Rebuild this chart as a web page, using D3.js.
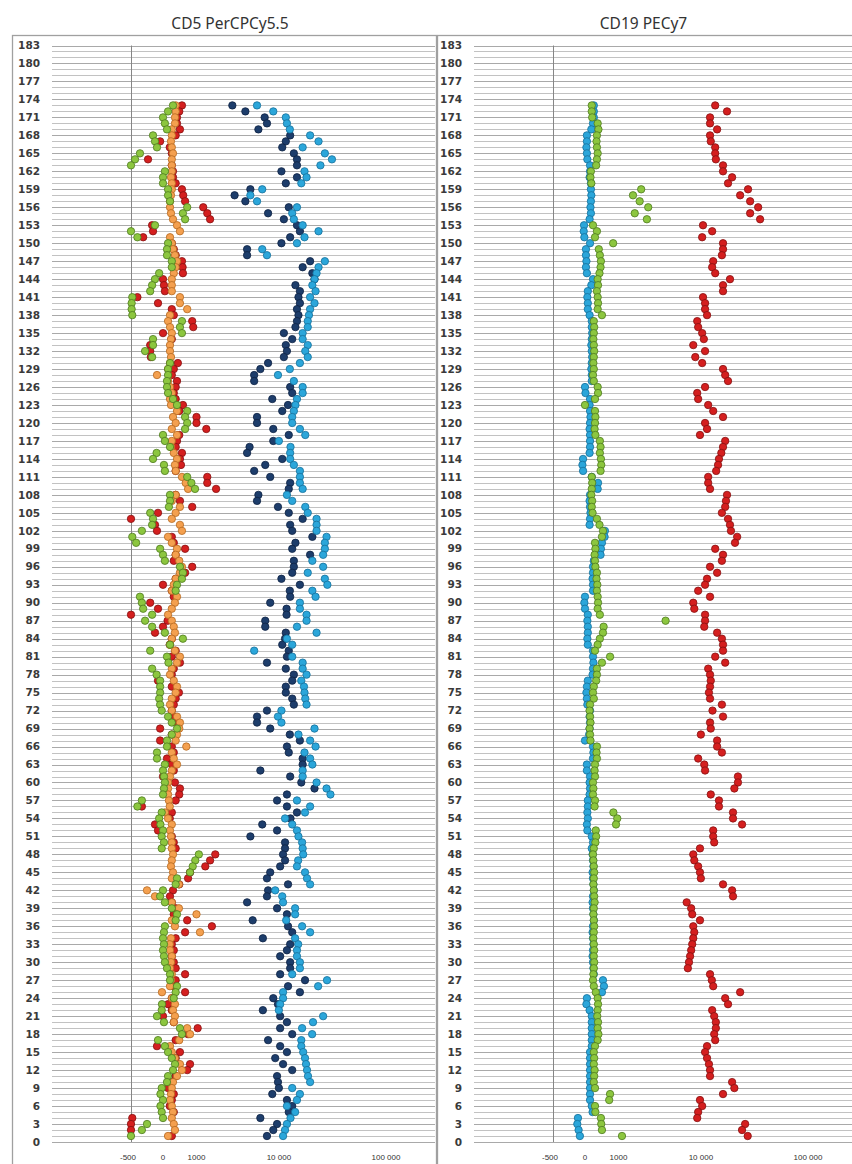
<!DOCTYPE html>
<html>
<head>
<meta charset="utf-8">
<script src="https://cdn.jsdelivr.net/npm/d3@7"></script>
<style>
  body { margin: 0; background: #fff; }
</style>
</head>
<body>
<div id="chart"></div>
<script>
// Filas de la tabla, de arriba (173) hacia abajo (1)
const rows = d3.range(173, 0, -1);
const yTicks = d3.range(0, 184, 3);
const gridRows = d3.range(0, 184);
const xTickVals = [-500, 0, 1000, 10000, 100000];
const xTickLabels = ["-500", "0", "1000", "10 000", "100 000"];

// ---- CD5 PerCPCy5.5 (valores por fila, 173 -> 1) ----
const cd5Green = [
  230,110,0,40,86,-156,-125,-94,-360,-437,
  -500,40,0,0,110,110,156,650,510,580,
  -125,-500,-400,110,86,86,200,200,-60,-125,
  -170,-200,-480,-490,-490,-480,480,420,480,-156,
  -156,-280,-170,156,110,110,86,86,110,230,
  336,650,580,650,580,0,40,156,-100,-156,
  20,40,650,800,940,156,156,130,-200,-156,
  -170,-330,-480,-420,-45,0,40,420,510,480,
  336,300,-360,-330,-310,-170,-280,-170,40,510,
  156,-200,86,120,-170,-100,-45,-45,-45,-60,
  -45,-20,110,200,336,200,86,86,-94,-94,
  40,0,20,40,20,0,-330,-400,-20,-60,
  -40,0,-20,20,-20,1100,950,850,750,336,
  300,0,-45,40,200,336,300,40,20,0,
  20,0,20,40,86,156,156,336,300,250,
  -16,-20,-94,20,420,480,-78,40,110,200,
  282,230,110,86,-20,-40,0,-40,-20,0,
  -250,-330,-500
];
const cd5Orange = [
  300,300,282,282,200,200,180,200,230,200,
  200,200,180,200,200,180,156,156,180,230,
  336,420,156,200,230,280,336,300,250,200,
  200,200,420,420,650,156,110,156,200,180,
  156,156,180,156,110,-94,110,156,200,156,
  180,336,230,300,200,336,200,180,250,336,
  280,300,480,600,680,300,200,420,300,200,
  420,480,110,200,336,300,400,480,420,300,
  250,200,336,280,200,110,200,250,280,200,
  156,280,420,336,200,156,250,336,300,200,
  156,200,336,420,400,336,300,620,200,250,
  336,200,156,110,110,110,130,150,40,110,
  200,156,180,200,200,230,200,180,230,200,
  390,-250,-125,200,390,1000,200,280,1150,180,
  150,156,200,180,156,200,180,156,-16,200,
  280,230,280,250,650,750,400,156,200,280,
  420,480,336,230,200,180,156,200,230,200,
  250,280,110
];
const cd5Red = [
  480,400,336,336,420,300,-45,150,200,-234,
  200,230,230,300,480,520,580,1300,1500,1650,
  -170,-156,-310,200,250,300,480,500,510,0,
  20,40,-400,-78,200,250,830,870,0,200,
  -200,-200,-190,360,250,200,336,300,250,300,
  510,400,1000,1000,1450,400,336,300,480,420,
  450,300,1500,1500,2000,300,420,830,-78,-500,
  -125,-94,200,250,580,300,250,830,580,300,
  0,200,250,-200,-78,-500,100,0,-125,200,
  150,300,200,420,250,200,-78,200,390,300,
  250,200,250,300,-45,200,-45,200,250,86,
  200,250,0,280,420,400,300,-330,200,150,
  -125,-78,200,250,300,1950,1650,1400,750,680,
  400,230,156,200,300,250,650,1750,580,300,
  200,250,200,250,300,580,300,250,580,200,
  110,200,0,250,1050,680,300,-94,420,300,
  750,650,300,200,110,250,200,150,250,-480,
  -500,-500,200
];
const cd5DarkBlue = [
  3200,4500,7200,7600,6200,12900,11700,10800,14000,15000,
  15000,10600,15000,11700,5100,3400,4500,12500,7800,11200,
  15000,16000,12900,10600,4700,4700,20000,17000,21000,22000,
  14500,16000,15500,16000,15000,15500,15000,14500,11200,13500,
  11700,12000,11200,7800,6500,5600,5600,12900,13500,8600,
  12300,10800,6000,6000,8800,12500,8800,5000,4700,10800,
  7300,5600,8200,12900,12500,6200,6000,9800,12500,17000,
  12900,13500,21000,14500,13500,20000,14000,14000,13500,10600,
  16000,12800,12900,8200,11900,11900,7300,7300,11700,11500,
  10800,12500,12000,7600,11700,14000,13500,11700,11700,13500,
  14000,7600,6000,6000,8200,12800,16000,12000,12500,17000,
  17000,6500,12900,16500,22000,12000,9600,12000,15000,13000,
  6800,9600,5100,11500,11500,11000,11500,10300,8200,7600,
  12300,7800,7600,4700,9600,12000,5400,12300,13500,6900,
  12900,12000,10300,12900,12900,10300,17900,12300,16000,8800,
  9800,6900,10300,12000,10300,13500,7800,10300,12000,9200,
  11000,13500,9600,9800,10000,8600,12000,13500,12500,6500,
  9600,8800,7600
];
const cd5LightBlue = [
  6000,8800,11700,12000,12800,20000,24000,17000,27500,32000,
  25000,17700,18500,16500,6800,5100,6000,15000,13500,14000,
  17000,24000,17700,15000,6800,7600,27500,24000,23000,22000,
  21000,22500,20000,22000,20000,19500,19000,19000,17000,17000,
  19000,18000,19000,16000,12800,9800,14000,17000,17000,15000,
  14500,14000,13500,13500,16000,18000,10000,13000,12900,12900,
  14000,16000,16000,16000,17000,12000,13500,18000,19000,23000,
  23000,23000,28500,27500,27500,26500,21000,26500,19000,27500,
  29000,21000,22500,16000,16000,18500,18500,15000,23000,12000,
  13500,5600,13500,17000,17000,18500,16500,17500,17700,18000,
  18500,10600,9800,10600,22000,15500,20000,22500,17700,20000,
  21000,17000,17000,23000,28500,31000,15000,20000,17900,11500,
  13500,15000,15500,16800,17000,17200,15400,15000,17900,18700,
  20000,9200,10800,11000,14400,14400,11800,16800,20000,14400,
  15400,15000,15000,16000,16000,13500,28800,23800,11000,11000,
  10300,10000,26500,21300,16800,20900,16500,16500,17200,17900,
  18300,18700,19100,20000,13500,16000,15000,12000,14400,13000,
  12000,11500,11000
];

// ---- CD19 PECy7 (valores por fila, 173 -> 1) ----
const cd19Blue = [
  200,200,200,180,140,40,40,30,40,50,
  110,110,100,130,130,140,130,120,130,100,
  -15,-20,-10,110,20,20,30,20,40,180,
  140,60,50,60,60,100,150,150,160,150,
  140,150,160,150,140,150,150,0,10,110,
  100,110,120,110,100,110,110,110,100,-30,
  -40,-30,150,310,300,110,100,110,120,110,
  100,510,500,420,390,380,200,180,180,170,
  180,180,0,-10,0,60,50,60,60,50,
  60,180,180,190,180,170,60,40,30,40,
  50,110,100,110,100,90,0,180,190,180,
  40,40,110,100,110,100,60,60,50,60,
  40,50,150,180,150,170,180,190,170,180,
  190,200,180,170,180,190,200,180,170,180,
  190,180,170,180,190,200,450,480,420,40,
  30,100,150,150,150,150,150,150,110,110,
  110,110,110,110,110,110,110,150,170,-110,
  -120,-100,-80
];
const cd19Green = [
  150,150,160,300,320,280,270,280,300,280,
  260,130,120,140,2200,1700,2100,2700,1800,2600,
  180,280,230,790,330,360,390,380,350,300,
  310,280,300,310,300,420,200,210,200,190,
  200,210,200,190,200,180,200,300,310,230,
  0,230,240,230,220,240,360,380,360,390,
  400,380,150,160,150,140,160,150,170,280,
  350,450,420,230,240,220,230,240,280,270,
  290,280,300,310,300,360,4300,470,450,360,
  300,230,680,420,280,280,260,200,180,200,
  110,100,110,120,100,110,120,280,270,280,
  230,220,230,180,190,180,230,220,800,950,
  900,250,260,240,200,180,190,200,210,200,
  190,200,210,220,200,190,200,210,200,190,
  200,210,200,210,200,190,180,200,250,300,
  310,300,290,310,300,320,300,230,200,210,
  200,220,210,200,230,680,650,230,240,390,
  400,420,1150
];
const cd19Red = [
  13800,17900,12300,12300,14400,12300,12500,13800,13800,14000,
  16400,16400,20000,18300,28200,23800,29500,35000,29500,36500,
  10500,12900,10300,16400,16400,16000,13200,12900,13800,19100,
  16400,16400,10500,11000,11000,11500,9200,9400,10300,10700,
  8400,11000,8800,10300,16400,17200,18300,11000,9200,9400,
  11800,13200,16400,11000,11500,9800,17200,16400,15800,15000,
  14700,14100,11800,11800,12300,17900,17500,17200,16000,18300,
  19100,19500,22300,21300,13800,16400,16000,12300,14400,11500,
  11000,9400,12300,8400,8600,11000,11000,10800,14400,16000,
  16400,16400,13800,17200,11800,12300,12500,12300,12000,12300,
  16000,13000,16400,12300,12500,10000,14400,14400,16000,9400,
  10800,11000,22700,22700,21000,12500,15000,15000,20400,20400,
  24800,13200,13200,13500,9800,8400,8600,9400,9800,10000,
  16400,20000,20400,7200,8000,8200,9800,8400,8600,8400,
  8200,8000,7800,7600,7400,12300,12800,13200,23800,17200,
  18300,12900,13500,14000,14000,13500,13800,11500,11000,11500,
  12000,12300,12300,20000,21000,16400,9800,10300,9400,9200,
  26500,24800,28000
];

// Colores de los puntos
const colors = {
  green:     { fill: "#8cc63f", stroke: "#4e7a20" },
  orange:    { fill: "#f4a04f", stroke: "#b5681f" },
  red:       { fill: "#d41f1f", stroke: "#851010" },
  darkBlue:  { fill: "#1d3d6b", stroke: "#0e2242" },
  lightBlue: { fill: "#2ba6da", stroke: "#15709a" }
};

// Dimensiones
const width = 852;
const height = 1164;

const svg = d3.select("#chart").append("svg")
    .attr("width", width)
    .attr("height", height)
    .style("font-family", "'Liberation Sans', Arial, sans-serif");

const y = d3.scaleLinear().domain([0, 183]).range([1142, 45.5]);

// Escala biexponencial: lineal en negativos, symlog en positivos
function makeX(ox) {
    const pos = d3.scaleSymlog().constant(1000).domain([0, 100000]).range([163 + ox, 386 + ox]);
    const neg = d3.scaleLinear().domain([-500, 0]).range([131 + ox, 163 + ox]);
    return v => v < 0 ? neg(v) : pos(v);
}

const panels = [
    {
        title: "CD5 PerCPCy5.5", ox: 0, frameX: 12, frameR: 436, gridR: 435,
        series: [
            { values: cd5DarkBlue, c: colors.darkBlue },
            { values: cd5LightBlue, c: colors.lightBlue },
            { values: cd5Red, c: colors.red },
            { values: cd5Orange, c: colors.orange },
            { values: cd5Green, c: colors.green }
        ]
    },
    {
        title: "CD19 PECy7", ox: 422, frameX: 437, frameR: 870, gridR: 852,
        series: [
            { values: cd19Blue, c: colors.lightBlue },
            { values: cd19Green, c: colors.green },
            { values: cd19Red, c: colors.red }
        ]
    }
];

panels.forEach(p => {
    const x = makeX(p.ox);
    const g = svg.append("g");

    // Titulo
    g.append("text")
        .attr("x", (p.frameX + Math.min(p.frameR, 852)) / 2 + (p.ox ? -1 : 6))
        .attr("y", 29)
        .attr("text-anchor", "middle")
        .style("font-family", "'Noto Sans', 'Open Sans', sans-serif")
        .style("font-size", "15.5px")
        .attr("fill", "#333")
        .text(p.title);

    // Marco
    g.append("rect")
        .attr("x", p.frameX + 0.5)
        .attr("y", 35.5)
        .attr("width", p.frameR - p.frameX)
        .attr("height", 1200)
        .attr("fill", "none")
        .attr("stroke", "#a0a0a0")
        .attr("stroke-width", 1.3);

    // Lineas horizontales (una por fila)
    g.append("g").selectAll("line")
        .data(gridRows)
        .enter().append("line")
        .attr("x1", 52 + p.ox)
        .attr("x2", p.gridR)
        .attr("y1", d => Math.round(y(d)) + 0.5)
        .attr("y2", d => Math.round(y(d)) + 0.5)
        .attr("stroke", d => d % 3 === 0 ? "#a9a9a9" : "#c2c2c2")
        .attr("stroke-width", 1)
        .attr("shape-rendering", "crispEdges");

    // Eje vertical en -500
    g.append("line")
        .attr("x1", Math.round(x(-500)) + 0.5)
        .attr("x2", Math.round(x(-500)) + 0.5)
        .attr("y1", y(183))
        .attr("y2", y(0))
        .attr("stroke", "#868686")
        .attr("stroke-width", 1);

    // Etiquetas del eje Y
    g.append("g").selectAll("text")
        .data(yTicks)
        .enter().append("text")
        .attr("x", 40 + p.ox)
        .attr("y", d => y(d))
        .attr("dy", "0.35em")
        .attr("text-anchor", "end")
        .style("font-family", "'DejaVu Sans', Verdana, sans-serif")
        .style("font-size", "10.5px")
        .style("font-weight", "bold")
        .attr("fill", "#3a3a3a")
        .text(d => d);

    // Etiquetas del eje X
    g.append("g").selectAll("text")
        .data(xTickVals)
        .enter().append("text")
        .attr("x", d => x(d) + (d < 0 ? -3 : 0))
        .attr("y", 1160)
        .attr("text-anchor", "middle")
        .style("font-size", "8px")
        .attr("fill", "#333")
        .text((d, i) => xTickLabels[i]);

    // Puntos
    p.series.forEach(s => {
        g.append("g").selectAll("circle")
            .data(s.values)
            .enter().append("circle")
            .attr("cx", d => x(d))
            .attr("cy", (d, i) => y(rows[i]))
            .attr("r", 3.7)
            .attr("fill", s.c.fill)
            .attr("stroke", s.c.stroke)
            .attr("stroke-width", 0.8);
    });
});
</script>
</body>
</html>
